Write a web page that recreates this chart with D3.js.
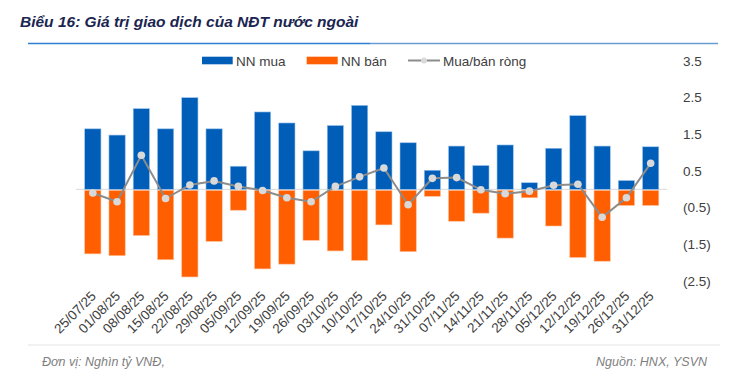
<!DOCTYPE html>
<html><head><meta charset="utf-8">
<script src="https://cdn.jsdelivr.net/npm/d3@7"></script>
<style>body{margin:0;background:#fff}svg{display:block;font-family:"Liberation Sans",Arial,sans-serif}</style>
</head><body><svg id="c" width="729" height="378"></svg>
<script>
const categories = ["25/07/25","01/08/25","08/08/25","15/08/25","22/08/25","29/08/25","05/09/25","12/09/25","19/09/25","26/09/25","03/10/25","10/10/25","17/10/25","24/10/25","31/10/25","07/11/25","14/11/25","21/11/25","28/11/25","05/12/25","12/12/25","19/12/25","26/12/25","31/12/25"];
const buyValues = [1.65,1.48,2.20,1.65,2.50,1.65,0.63,2.11,1.81,1.05,1.74,2.29,1.57,1.27,0.52,1.18,0.65,1.21,0.18,1.12,2.01,1.18,0.24,1.16];
const sellValues = [-1.76,-1.81,-1.26,-1.92,-2.39,-1.42,-0.57,-2.17,-2.04,-1.39,-1.68,-1.94,-0.97,-1.70,-0.19,-0.87,-0.65,-1.33,-0.23,-1.00,-1.86,-1.96,-0.44,-0.44];
const netValues = [-0.10,-0.34,0.93,-0.25,0.12,0.23,0.08,-0.03,-0.23,-0.34,0.08,0.34,0.58,-0.42,0.30,0.32,-0.01,-0.12,-0.05,0.11,0.14,-0.76,-0.23,0.71];
const yTicks = [3.5,2.5,1.5,0.5,-0.5,-1.5,-2.5];
const seriesNames = ["NN mua","NN bán","Mua/bán ròng"];

const svg = d3.select("#c");
const blue = "#005EB8", orange = "#FF5F00";

// title
svg.append("text").attr("x",20).attr("y",27).attr("font-size",15.5).attr("font-weight","bold")
  .attr("font-style","italic").attr("fill","#1a2550").text("Biểu 16: Giá trị giao dịch của NĐT nước ngoài");
svg.append("line").attr("x1",28).attr("x2",370).attr("y1",43.5).attr("y2",43.5).attr("stroke","#2f7fd0").attr("stroke-width",1.5);
svg.append("line").attr("x1",370).attr("x2",718).attr("y1",43.5).attr("y2",43.5).attr("stroke","#6a9bd2").attr("stroke-width",1.5);

const x = d3.scaleBand().domain(categories).range([76.7,666.8]).padding(0.33);
const y = d3.scaleLinear().domain([-2.5,3.5]).range([281,61]);

// zero line
svg.append("line").attr("x1",76).attr("x2",667).attr("y1",y(0)).attr("y2",y(0)).attr("stroke","#d9d9d9").attr("stroke-width",1);

// bars
svg.append("g").selectAll("rect").data(categories).join("rect")
  .attr("x",d=>x(d)).attr("width",x.bandwidth())
  .attr("y",(d,i)=>y(buyValues[i])).attr("height",(d,i)=>y(0)-y(buyValues[i]))
  .attr("fill",blue).attr("stroke","#9cc3ea").attr("stroke-width",0.6);
svg.append("g").selectAll("rect").data(categories).join("rect")
  .attr("x",d=>x(d)).attr("width",x.bandwidth())
  .attr("y",y(0)+1).attr("height",(d,i)=>y(sellValues[i])-y(0)-1)
  .attr("fill",orange).attr("stroke","#ffc09a").attr("stroke-width",0.6);

// net line
const cx = d=>x(d)+x.bandwidth()/2;
svg.append("path").datum(categories).attr("fill","none").attr("stroke","#8c8c8c").attr("stroke-width",2)
  .attr("d",d3.line().x(d=>cx(d)).y((d,i)=>y(netValues[i])));
svg.append("g").selectAll("circle").data(categories).join("circle")
  .attr("cx",cx).attr("cy",(d,i)=>y(netValues[i])).attr("r",3.8).attr("fill","#d9d9d9");

// right axis
const fmt = v => v<0 ? "("+Math.abs(v).toFixed(1)+")" : v.toFixed(1);
const axis = d3.axisRight(y).tickValues(yTicks).tickFormat(fmt).tickSize(0).tickPadding(0);
const ag = svg.append("g").attr("transform","translate(683,0)").call(axis);
ag.select(".domain").remove();
ag.selectAll("text").attr("font-size",13.5).attr("fill","#404040").attr("font-family","Liberation Sans, Arial, sans-serif");

// x labels
const xa = d3.axisBottom(x).tickSize(0).tickPadding(0);
const xg = svg.append("g").call(xa);
xg.select(".domain").remove();
xg.selectAll(".tick").attr("transform",d=>`translate(${cx(d)+4},297)`);
xg.selectAll("text").attr("font-size",13.5).attr("fill","#404040").attr("font-family","Liberation Sans, Arial, sans-serif")
  .attr("text-anchor","end").attr("dy",0).attr("y",0).attr("transform","rotate(-45)");

// legend
const lg = svg.append("g");
lg.append("rect").attr("x",202).attr("y",56.7).attr("width",30.7).attr("height",7.6).attr("fill",blue);
lg.append("text").attr("x",236).attr("y",65.5).attr("font-size",13.5).attr("fill","#404040").text(seriesNames[0]);
lg.append("rect").attr("x",306.7).attr("y",56.7).attr("width",31).attr("height",7.6).attr("fill",orange);
lg.append("text").attr("x",341).attr("y",65.5).attr("font-size",13.5).attr("fill","#404040").text(seriesNames[1]);
lg.append("line").attr("x1",408).attr("x2",440).attr("y1",60.5).attr("y2",60.5).attr("stroke","#8c8c8c").attr("stroke-width",2);
lg.append("circle").attr("cx",424).attr("cy",60.5).attr("r",3).attr("fill","#d9d9d9");
lg.append("text").attr("x",443).attr("y",65.5).attr("font-size",13.5).attr("fill","#404040").text(seriesNames[2]);

// bottom line and notes
svg.append("line").attr("x1",28).attr("x2",720).attr("y1",345).attr("y2",345).attr("stroke","#e3e3e3").attr("stroke-width",1);
svg.append("text").attr("x",42).attr("y",366).attr("font-size",12.5).attr("font-style","italic").attr("fill","#7f7f7f").text("Đơn vị: Nghìn tỷ VNĐ,");
svg.append("text").attr("x",707).attr("y",366).attr("text-anchor","end").attr("font-size",12.5).attr("font-style","italic").attr("fill","#7f7f7f").text("Nguồn: HNX, YSVN");
</script></body></html>
